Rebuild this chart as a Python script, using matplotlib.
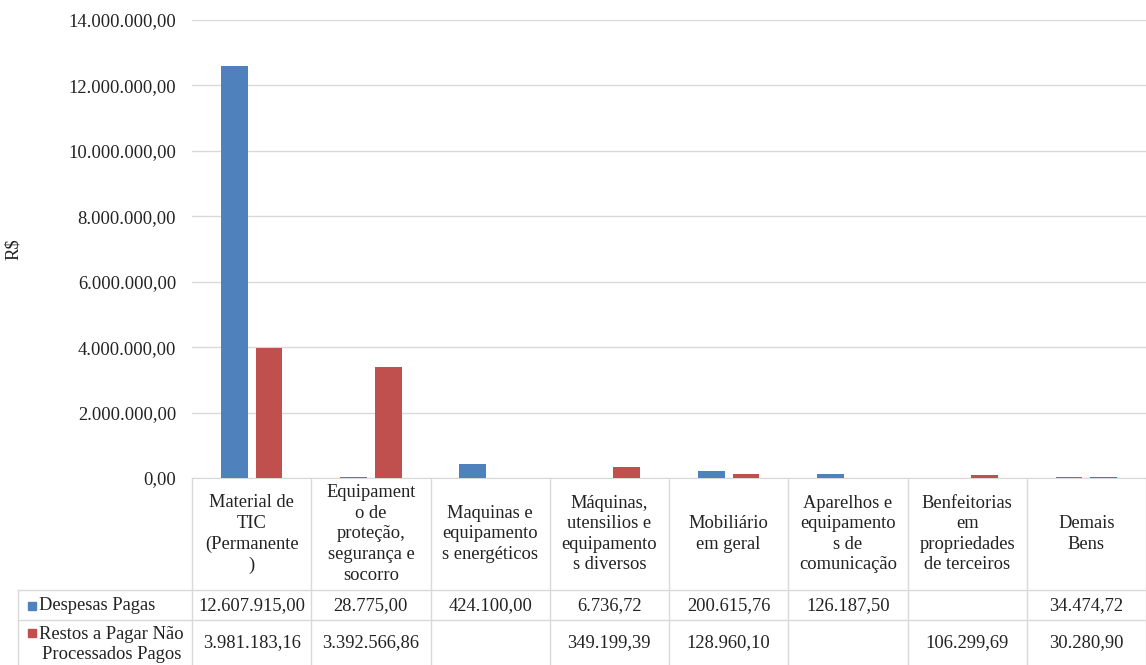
import matplotlib.pyplot as plt
import numpy as np

plt.rcParams['font.family'] = ['Liberation Serif', 'DejaVu Serif']

# Data
categorias = ["Material de\nTIC\n(Permanente\n)",
              "Equipament\no de\nproteção,\nsegurança e\nsocorro",
              "Maquinas e\nequipamento\ns energéticos",
              "Máquinas,\nutensilios e\nequipamento\ns diversos",
              "Mobiliário\nem geral",
              "Aparelhos e\nequipamento\ns de\ncomunicação",
              "Benfeitorias\nem\npropriedades\nde terceiros",
              "Demais\nBens"]
despesas_pagas = [12607915.00, 28775.00, 424100.00, 6736.72, 200615.76, 126187.50, None, 34474.72]
restos_pagos = [3981183.16, 3392566.86, None, 349199.39, 128960.10, None, 106299.69, 30280.90]
series_nomes = ["Despesas Pagas", "Restos a Pagar Não\nProcessados Pagos"]
cores = ["#4F81BD", "#C0504D"]
yticks = np.arange(0, 14000001, 2000000)

W, H = 1146, 665
grid_c = "#D9D9D9"
txt_c = "#222222"
fs = 13.3


def fmt_br(v):
    s = "{:,.2f}".format(v)
    return s.replace(",", "X").replace(".", ",").replace("X", ".")


fig = plt.figure(figsize=(W / 100, H / 100), dpi=100)
ax_l, ax_r, ax_t, ax_b = 192, 1146, 20, 478
ax = fig.add_axes([ax_l / W, 1 - ax_b / H, (ax_r - ax_l) / W, (ax_b - ax_t) / H])

n = len(categorias)
x = np.arange(n)
bw = 0.225
off = 0.145
for vals, dx, c in [(despesas_pagas, -off, cores[0]), (restos_pagos, off, cores[1])]:
    v = np.array([0 if a is None else a for a in vals], dtype=float)
    ax.bar(x + dx, v, width=bw, color=c, zorder=3)

ax.set_xlim(-0.5, n - 0.5)
ax.set_ylim(0, 14000000)
ax.set_yticks(yticks)
ax.set_yticklabels([fmt_br(t) for t in yticks], fontsize=fs, color=txt_c)
ax.tick_params(axis='y', length=0, pad=11.5)
ax.set_xticks([])
ax.grid(axis='y', color=grid_c, lw=1, zorder=0)
for s in ['top', 'right', 'left']:
    ax.spines[s].set_visible(False)
ax.spines['bottom'].set_color(grid_c)
ax.set_ylabel("R$", fontsize=fs, color=txt_c)
ax.yaxis.set_label_coords(-(ax_l - 22) / (ax_r - ax_l), 0.5)

# Data table underneath (drawn on an overlay in pixel coordinates)
ov = fig.add_axes([0, 0, 1, 1], zorder=-1)
ov.set_xlim(0, W)
ov.set_ylim(H, 0)
ov.axis('off')

colw = (ax_r - ax_l) / n
row_top = 590
row_mid = 620
lab_left = 18
for i in range(n + 1):
    xx = ax_l + i * colw
    ov.plot([xx, xx], [ax_b, H], color=grid_c, lw=1)
ov.plot([lab_left, lab_left], [row_top, H], color=grid_c, lw=1)
for yy in (row_top, row_mid):
    ov.plot([lab_left, W], [yy, yy], color=grid_c, lw=1)

for i, cat in enumerate(categorias):
    cx = ax_l + (i + 0.5) * colw
    ov.text(cx, 534, cat, ha='center', va='center',
            fontsize=fs, linespacing=1.27, color=txt_c)
    for vals, cy in [(despesas_pagas, (row_top + row_mid) / 2 + 1), (restos_pagos, (row_mid + H) / 2)]:
        if vals[i] is not None:
            ov.text(cx, cy, fmt_br(vals[i]), ha='center', va='center',
                    fontsize=fs, color=txt_c)

for nome, c, cy, sy in [(series_nomes[0], cores[0], (row_top + row_mid) / 2 + 1, (row_top + row_mid) / 2 + 1),
                        (series_nomes[1], cores[1], (row_mid + H) / 2 + 2, 633)]:
    ov.plot([32], [sy], marker='s', ms=6, color=c, lw=0)
    ov.text(39, cy, nome, ha='left', va='center', fontsize=fs,
            linespacing=1.3, multialignment='center', color=txt_c)

fig.savefig("out.png", dpi=100)
